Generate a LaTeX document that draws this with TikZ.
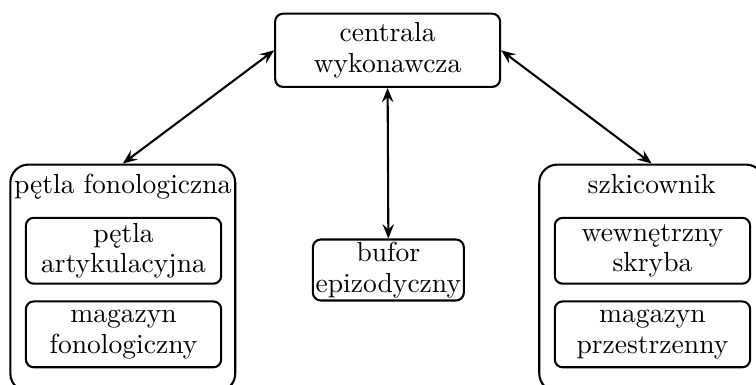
\documentclass[tikz,border=0pt]{standalone}
\usepackage{fontspec}
\usepackage{tikz}
\usetikzlibrary{arrows.meta}
\definecolor{ink}{HTML}{000000}
\tikzset{
  blok/.style={draw=ink, thick, rounded corners=3pt, align=center, inner sep=1pt, font=\fontsize{10.6}{11.8}\selectfont},
  pod/.style={blok, minimum width=2.64cm, minimum height=0.89cm},
  grupa/.style={draw=ink, thick, rounded corners=7pt, minimum width=3.04cm, minimum height=3.07cm},
  tytul/.style={anchor=base, text=ink, font=\fontsize{10.6}{11.8}\selectfont},
  strz/.style={draw=ink, thick, {Stealth[length=5.5pt,width=4.4pt,inset=2pt]}-{Stealth[length=5.5pt,width=4.4pt,inset=2pt]}}
}
\begin{document}
\begin{tikzpicture}
  \useasboundingbox (0,0) rectangle (10.22,5.20);
  \clip (0,0) rectangle (10.22,5.20);
  % centrala i bufor
  \node[blok,minimum width=3.04cm,minimum height=0.99cm] (cent) at (5.24,4.52) {centrala\\wykonawcza};
  \node[blok,minimum width=2.04cm,minimum height=0.78cm] (bufor) at (5.25,1.55) {bufor\\epizodyczny};
  % petla fonologiczna
  \node[grupa] (petla) at (1.66,1.44) {};
  \node[tytul] (petlaT) at (1.66,2.58) {pętla fonologiczna};
  \node[pod] (art) at (1.67,1.81) {pętla\\artykulacyjna};
  \node[pod] (fon) at (1.67,0.68) {magazyn\\fonologiczny};
  % szkicownik
  \node[grupa] (szkic) at (8.81,1.44) {};
  \node[tytul] (szkicT) at (8.81,2.58) {szkicownik};
  \node[pod] (skryba) at (8.82,1.81) {wewnętrzny\\skryba};
  \node[pod] (przest) at (8.82,0.68) {magazyn\\przestrzenny};
  % polaczenia
  \draw[strz] (petla.north) -- (cent.west);
  \draw[strz] (cent.south) -- (bufor.north);
  \draw[strz] (cent.east) -- (szkic.north);
\end{tikzpicture}
\end{document}
